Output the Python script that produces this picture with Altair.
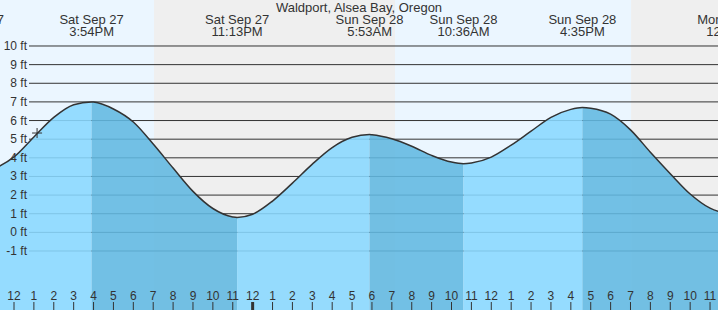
import altair as alt
import pandas as pd

# ---------------- data ----------------
title_text = "Waldport, Alsea Bay, Oregon"

# hours since Sat Sep 27 00:00, tide height in ft (read at each hour tick and at the extremes)
tide_hours = [10, 11, 12, 13, 14, 15, 15.90, 16, 17, 18, 19, 20, 21, 22, 23, 23.22,
              24, 25, 26, 27, 28, 29, 29.88, 30, 31, 32, 33, 34, 34.60,
              35, 36, 37, 38, 39, 40, 40.58, 41, 42, 43, 44, 45, 46, 47, 48, 48.12]
tide_ft = [3.12, 3.42, 4.05, 5.12, 6.17, 6.85, 7.0, 6.99, 6.62, 5.92, 4.74, 3.45, 2.2, 1.28, 0.83, 0.8,
           0.97, 1.68, 2.64, 3.66, 4.55, 5.1, 5.25, 5.24, 5.02, 4.62, 4.13, 3.77, 3.68,
           3.72, 4.04, 4.68, 5.43, 6.17, 6.6, 6.7, 6.66, 6.34, 5.5, 4.3, 3.15, 2.06, 1.3, 1.0, 0.99]

extreme_hours = [9.88, 15.90, 23.22, 29.88, 34.60, 40.58, 48.12]
extreme_heights = [3.1, 7.0, 0.8, 5.25, 3.68, 6.7, 0.99]
extreme_dates = ["Sat Sep 27", "Sat Sep 27", "Sat Sep 27", "Sun Sep 28",
                 "Sun Sep 28", "Sun Sep 28", "Mon Sep 29"]
extreme_times = ["9:53AM", "3:54PM", "11:13PM", "5:53AM", "10:36AM", "4:35PM", "12:07AM"]

band_start = [9.0, 19.04, 31.16, 43.03]
band_end = [19.04, 31.16, 43.03, 49.0]
band_kind = ["day", "night", "day", "night"]

grid_ft = [-1, 0, 1, 2, 3, 4, 5, 6, 7, 8, 9, 10]
hour_ticks = list(range(12, 48))

marker_hour = [13.16]
marker_ft = [5.33]

# ---------------- layout / style ----------------
W, H = 718, 310
X_DOMAIN = [11.296, 47.40]
Y_DOMAIN = [-4.166, 12.468]
FONT = "Liberation Sans"
TXT = "#333333"

xs = alt.Scale(domain=X_DOMAIN, nice=False, zero=False)
ys = alt.Scale(domain=Y_DOMAIN, nice=False, zero=False)

# ---------------- tables ----------------
tide_df = pd.DataFrame({"h": tide_hours, "ft": tide_ft})

seg_rows = []
for k in range(len(extreme_hours) - 1):
    a, b = extreme_hours[k], extreme_hours[k + 1]
    phase = "rising" if extreme_heights[k + 1] > extreme_heights[k] else "falling"
    for h, f in zip(tide_hours, tide_ft):
        if a <= h <= b:
            seg_rows.append({"h": h, "ft": f, "seg": k, "phase": phase})
seg_df = pd.DataFrame(seg_rows)

band_df = pd.DataFrame({"s": band_start, "e": band_end, "kind": band_kind})
grid_df = pd.DataFrame({"ft": grid_ft, "label": [f"{g} ft" for g in grid_ft]})
hour_df = pd.DataFrame({
    "h": hour_ticks,
    "label": [str((h - 1) % 12 + 1) for h in hour_ticks],
    "w": [3 if h % 24 == 0 else 1 for h in hour_ticks],
})
ext_df = pd.DataFrame({"h": extreme_hours, "d": extreme_dates, "t": extreme_times})
title_df = pd.DataFrame({"t": [title_text]})
marker_df = pd.DataFrame({"h": marker_hour, "ft": marker_ft})

# ---------------- layers ----------------
bands = alt.Chart(band_df).mark_rect(clip=True).encode(
    x=alt.X("s:Q", scale=xs, axis=None),
    x2="e:Q",
    y=alt.value(0),
    y2=alt.value(H),
    fill=alt.Fill("kind:N", scale=alt.Scale(domain=["day", "night"],
                                            range=["#ebf6ff", "#efefef"]), legend=None),
)

grid = alt.Chart(grid_df).mark_rule(color=TXT, strokeWidth=1).encode(
    y=alt.Y("ft:Q", scale=ys, axis=None),
    x=alt.value(29),
    x2=alt.value(W),
)

area = alt.Chart(seg_df).mark_area(interpolate="monotone", opacity=0.88, clip=True).encode(
    x=alt.X("h:Q", scale=xs, axis=None),
    y=alt.Y("ft:Q", scale=ys, axis=None, stack=None),
    y2=alt.value(H),
    color=alt.Color("phase:N", scale=alt.Scale(domain=["rising", "falling"],
                                               range=["#89d8ff", "#61b8e1"]), legend=None),
    detail="seg:N",
)

line = alt.Chart(tide_df).mark_line(interpolate="monotone", color="#333333",
                                    strokeWidth=1.5, clip=True).encode(
    x=alt.X("h:Q", scale=xs, axis=None),
    y=alt.Y("ft:Q", scale=ys, axis=None),
)

ylabels = alt.Chart(grid_df).mark_text(align="right", baseline="alphabetic", dy=4,
                                       font=FONT, fontSize=12, color=TXT).encode(
    y=alt.Y("ft:Q", scale=ys, axis=None),
    x=alt.value(27),
    text="label:N",
)

ticks = alt.Chart(hour_df).mark_rule(color=TXT).encode(
    x=alt.X("h:Q", scale=xs, axis=None),
    y=alt.value(302),
    y2=alt.value(H),
    strokeWidth=alt.StrokeWidth("w:Q", scale=None),
)

hlabels = alt.Chart(hour_df).mark_text(align="center", baseline="alphabetic",
                                       font=FONT, fontSize=12, color=TXT, clip=True).encode(
    x=alt.X("h:Q", scale=xs, axis=None),
    y=alt.value(300),
    text="label:N",
)

top1 = alt.Chart(ext_df).mark_text(align="center", baseline="alphabetic",
                                   font=FONT, fontSize=13, color=TXT, clip=True).encode(
    x=alt.X("h:Q", scale=xs, axis=None),
    y=alt.value(24),
    text="d:N",
)
top2 = alt.Chart(ext_df).mark_text(align="center", baseline="alphabetic",
                                   font=FONT, fontSize=13, color=TXT, clip=True).encode(
    x=alt.X("h:Q", scale=xs, axis=None),
    y=alt.value(36),
    text="t:N",
)

title = alt.Chart(title_df).mark_text(align="center", baseline="alphabetic",
                                      font=FONT, fontSize=13, color=TXT).encode(
    x=alt.value(359),
    y=alt.value(12),
    text="t:N",
)

marker = alt.Chart(marker_df).mark_point(shape="M -1 0 L 1 0 M 0 -1 L 0 1", filled=False,
                                         size=100, color="#333333", strokeWidth=1,
                                         opacity=1).encode(
    x=alt.X("h:Q", scale=xs, axis=None),
    y=alt.Y("ft:Q", scale=ys, axis=None),
)

chart = alt.layer(
    bands, grid, area, line, ylabels, ticks, hlabels, top1, top2, title, marker
).resolve_scale(
    color="independent", fill="independent"
).properties(
    width=W, height=H, padding=0,
    autosize=alt.AutoSizeParams(type="none"),
).configure_view(strokeWidth=0)

chart.save("out.html", embed_options={"renderer": "svg", "actions": False})
